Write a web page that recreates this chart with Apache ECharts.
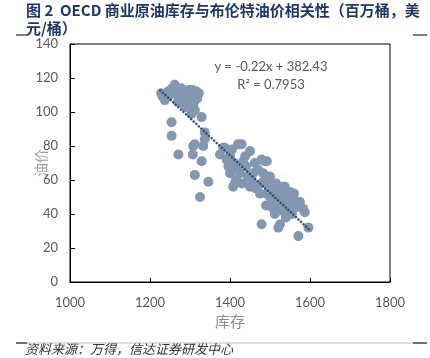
<!DOCTYPE html>
<html>
<head>
<meta charset="utf-8">
<script src="https://cdn.jsdelivr.net/npm/echarts@6/dist/echarts.min.js"></script>
<style>
html,body{margin:0;padding:0;background:#fff;}
#chart{width:430px;height:358px;}
</style>
</head>
<body>
<div id="chart"></div>
<script>
// Inventory (million barrels) and Brent price (USD/bbl) pairs
const inventory = [
 1228,1232,1237,1245,1250,1255,1258,1262,1265,1268,1272,1275,1278,1282,1285,1288,1292,1295,1298,1300,
 1303,1306,1308,1310,1313,1316,1318,1322,1283,1290,1304,1312,1329,1296,1270,
 1254,1254,1337,1337,1312,1308,1271,1307,1329,1312,1346,1325,1333,
 1383,1375,1400,1400,1412,1420,1429,1450,1387,1479,1492,1396,1433,1425,1458,1408,1450,1483,1475,1410,
 1418,1440,1445,1430,1415,1462,1470,1455,1465,1392,1405,1438,
 1487,1483,1479,1508,1537,1533,1542,1550,1562,1583,1587,1512,1525,1521,1479,1596,1571,1492,1508,1533,
 1537,1558,1495,1500,1515,1520,1525,1530,1545,1550,1555,1540,1565,1575,1500,1505,1490,1515,1528,1560
];
const brent = [
 111,109,107,112,110,114,112,116,113,111,109,112,114,113,110,108,112,109,113,107,
 111,113,104,110,107,112,108,111,105,103,99,101,97,106,106,
 94,86,88,84,81,80,75,75,71,63,59,50,80,
 79,75,74,64,58,81,81,77,79,72,71,68,71,64,64,56,56,59,52,70,
 66,68,62,58,60,70,66,59,55,72,78,74,
 71,64,58,55,56,56,52,53,48,43,41,40,34,32,34,32,27,52,47,51,
 46,46,58,50,50,45,55,48,42,47,40,38,44,47,62,44,45,58,42,52
];
const xTicks = [1000, 1800, 200];
const yTicks = [0, 140, 20];
const trendSlope = -0.22;
const trendIntercept = 382.43;
const trendRange = [1226, 1598];
const titleText = '图 2  OECD 商业原油库存与布伦特油价相关性（百万桶，美\n元/桶）';
const eqText = 'y = -0.22x + 382.43\nR² = 0.7953';
const sourceText = '资料来源：万得，信达证券研发中心';

const points = inventory.map((v, i) => [v, brent[i]]);
const trend = trendRange.map(x => [x, trendSlope * x + trendIntercept]);

const chart = echarts.init(document.getElementById('chart'), null, {renderer: 'canvas'});
const labelFont = 'Lato, "Noto Sans", sans-serif';
chart.setOption({
  animation: false,
  backgroundColor: '#fff',
  grid: {left: 70, right: 40, top: 44, bottom: 76, show: true, borderColor: '#000', borderWidth: 1},
  xAxis: {
    type: 'value', min: xTicks[0], max: xTicks[1], interval: xTicks[2],
    name: '库存', nameLocation: 'middle', nameGap: 32, nameMoveOverlap: false,
    nameTextStyle: {color: '#8c8c8c', fontSize: 15, fontFamily: '"Noto Sans CJK SC"'},
    axisLine: {show: true, lineStyle: {color: '#000', width: 1}},
    axisTick: {show: true, inside: true, length: 4, lineStyle: {color: '#000'}},
    axisLabel: {color: '#595959', fontSize: 13, margin: 14, fontFamily: labelFont, formatter: v => String(v)},
    splitLine: {show: false}
  },
  yAxis: {
    type: 'value', min: yTicks[0], max: yTicks[1], interval: yTicks[2],
    name: '油价', nameLocation: 'middle', nameGap: 22, nameRotate: 90, nameMoveOverlap: false,
    nameTextStyle: {color: '#a0a0a0', fontSize: 14, fontFamily: '"Noto Sans CJK SC"'},
    axisLine: {show: true, lineStyle: {color: '#000', width: 1}},
    axisTick: {show: true, inside: true, length: 5, lineStyle: {color: '#000'}},
    axisLabel: {color: '#595959', fontSize: 13, margin: 12, fontFamily: labelFont},
    splitLine: {show: false}
  },
  series: [
    {
      type: 'scatter', data: points, symbol: 'circle', symbolSize: 10,
      itemStyle: {color: '#8497B0', opacity: 1}, z: 2
    },
    {
      type: 'line', data: trend, symbol: 'none', z: 3,
      lineStyle: {color: '#2F4B7C', width: 2.5, type: [0.1, 3.4], cap: 'round'}
    }
  ],
  graphic: [
    {type: 'text', left: 26, top: 1, style: {text: titleText, fill: '#1f3864', font: 'bold 15px "Noto Sans CJK SC", sans-serif', lineHeight: 18}},
    {type: 'line', shape: {x1: 16, y1: 35, x2: 27, y2: 35}, style: {stroke: '#000', lineWidth: 1}},
    {type: 'line', shape: {x1: 413, y1: 35, x2: 427, y2: 35}, style: {stroke: '#000', lineWidth: 1}},
    {type: 'text', x: 271, y: 58, style: {text: eqText, fill: '#595959', font: '13px Lato, "Noto Sans", sans-serif', lineHeight: 18, textAlign: 'center'}},
    {type: 'line', shape: {x1: 16, y1: 343, x2: 427, y2: 343}, style: {stroke: '#bfbfbf', lineWidth: 1}},
    {type: 'line', shape: {x1: 16, y1: 343, x2: 27, y2: 343}, style: {stroke: '#000', lineWidth: 1}},
    {type: 'line', shape: {x1: 413, y1: 343, x2: 427, y2: 343}, style: {stroke: '#000', lineWidth: 1}},
    {type: 'text', left: 25, top: 343, style: {text: sourceText, fill: '#333', font: 'italic 13px "Noto Sans CJK SC", sans-serif'}}
  ]
});
</script>
</body>
</html>
